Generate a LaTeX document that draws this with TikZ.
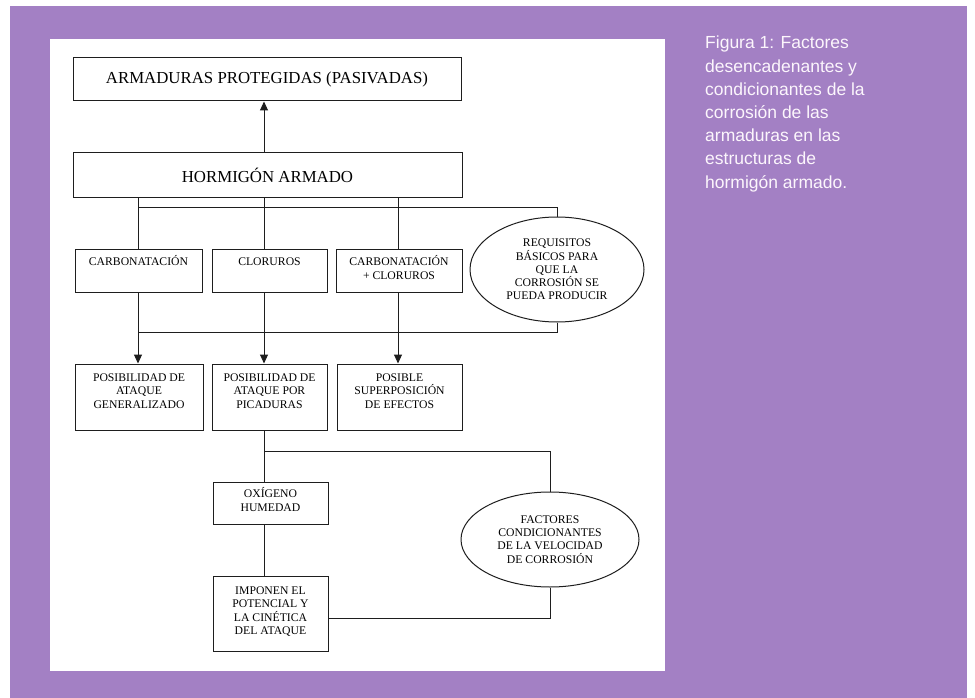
\documentclass[tikz,border=0pt]{standalone}
\usepackage{fontspec}
\setmainfont{Liberation Serif}
\newfontfamily\capfont{Liberation Sans}
\usetikzlibrary{arrows.meta,shapes.geometric}
\definecolor{bgpurple}{RGB}{163,128,196}
\definecolor{inkc}{RGB}{30,30,30}
\definecolor{captxt}{RGB}{252,246,252}
\newcommand\tbox[4]{\parbox[c][#2][t]{#1}{\centering\rule{0pt}{#3}#4\par}}
\tikzset{
  boxn/.style={draw=inkc, line width=1pt, fill=white, inner sep=0pt, font=\fontsize{11.7}{13.3}\selectfont},
  bigbox/.style={draw=inkc, line width=1pt, fill=white, inner sep=0pt, font=\fontsize{16.8}{20}\selectfont},
  ell/.style={draw=inkc, line width=1pt, fill=white, ellipse, inner sep=0pt, align=center, font=\fontsize{11.7}{13.3}\selectfont},
  conn/.style={draw=inkc, line width=1pt},
  arr/.style={conn, -{Triangle[length=9pt,width=8pt]}},
}
\begin{document}
\begin{tikzpicture}[x=1pt,y=-1pt]
\useasboundingbox (0,0) rectangle (975,698);
\fill[white] (0,0) rectangle (975,698);
\fill[bgpurple] (10,6) rectangle (967,698);
\fill[white] (50,39) rectangle (665,671);

% named helper coordinates
\coordinate (x1) at (138,0);
\coordinate (x2) at (264,0);
\coordinate (x3) at (398,0);
\coordinate (yb1) at (0,207.5);
\coordinate (yb2) at (0,332.5);
\coordinate (yb3) at (0,451);
\coordinate (yb4) at (0,618.5);

% nodes
\node[bigbox, minimum width=388, minimum height=43] (arm) at (267,79.5) {ARMADURAS PROTEGIDAS (PASIVADAS)};
\node[bigbox, minimum width=389, minimum height=44] (horm) at (267.5,175) {HORMIGÓN ARMADO};

\node[boxn] (carb) at (138.5,270.5) {\tbox{127pt}{43pt}{16.7pt}{CARBONATACIÓN}};
\node[boxn] (clor) at (269.5,270.5) {\tbox{115pt}{43pt}{16.7pt}{CLORUROS}};
\node[boxn] (cc) at (399,270.5) {\tbox{126pt}{43pt}{16.7pt}{CARBONATACIÓN\\+ CLORUROS}};
\node[ell, minimum width=174, minimum height=105] (req) at (557,269.5) {REQUISITOS\\BÁSICOS PARA\\QUE LA\\CORROSIÓN SE\\PUEDA PRODUCIR};

\node[boxn] (gen) at (139,397) {\tbox{128pt}{66pt}{17.5pt}{POSIBILIDAD DE\\ATAQUE\\GENERALIZADO}};
\node[boxn] (pic) at (269.5,397) {\tbox{115pt}{66pt}{17.5pt}{POSIBILIDAD DE\\ATAQUE POR\\PICADURAS}};
\node[boxn] (sup) at (399.5,397) {\tbox{125pt}{66pt}{17.5pt}{POSIBLE\\SUPERPOSICIÓN\\DE EFECTOS}};

\node[boxn] (oxi) at (270.5,503) {\tbox{115pt}{42pt}{15.7pt}{OXÍGENO\\HUMEDAD}};
\node[boxn] (imp) at (270.5,613.5) {\tbox{115pt}{75pt}{18.5pt}{IMPONEN EL\\POTENCIAL Y\\LA CINÉTICA\\DEL ATAQUE}};
\node[ell, minimum width=178, minimum height=95] (fact) at (550,539.5) {FACTORES\\CONDICIONANTES\\DE LA VELOCIDAD\\DE CORROSIÓN};

% caption
\node[font=\capfont\fontsize{17.5}{23.2}\selectfont, text=captxt, align=left, anchor=north west, inner sep=0pt] (cap) at (705,36)
  {Figura 1: Factores\\desencadenantes y\\condicionantes de la\\corrosión de las\\armaduras en las\\estructuras de\\hormigón armado.};

% connectors
\draw[arr] (horm.north -| x2) -- (arm.south -| x2);
\draw[conn] (horm.south -| x1) -- (carb.north -| x1);
\draw[conn] (horm.south -| x2) -- (clor.north -| x2);
\draw[conn] (horm.south -| x3) -- (cc.north -| x3);
\draw[conn] (x1 |- yb1) -- (req.north |- yb1) -- (req.north);
\draw[conn] (req.south) -- (req.south |- yb2) -- (x1 |- yb2);
\draw[arr] (carb.south -| x1) -- (gen.north -| x1);
\draw[arr] (clor.south -| x2) -- (pic.north -| x2);
\draw[arr] (cc.south -| x3) -- (sup.north -| x3);
\draw[conn] (pic.south -| x2) -- (oxi.north -| x2);
\draw[conn] (x2 |- yb3) -- (fact.north |- yb3) -- (fact.north);
\draw[conn] (oxi.south -| x2) -- (imp.north -| x2);
\draw[conn] (fact.south) -- (fact.south |- yb4) -- (imp.east |- yb4);
\end{tikzpicture}
\end{document}
